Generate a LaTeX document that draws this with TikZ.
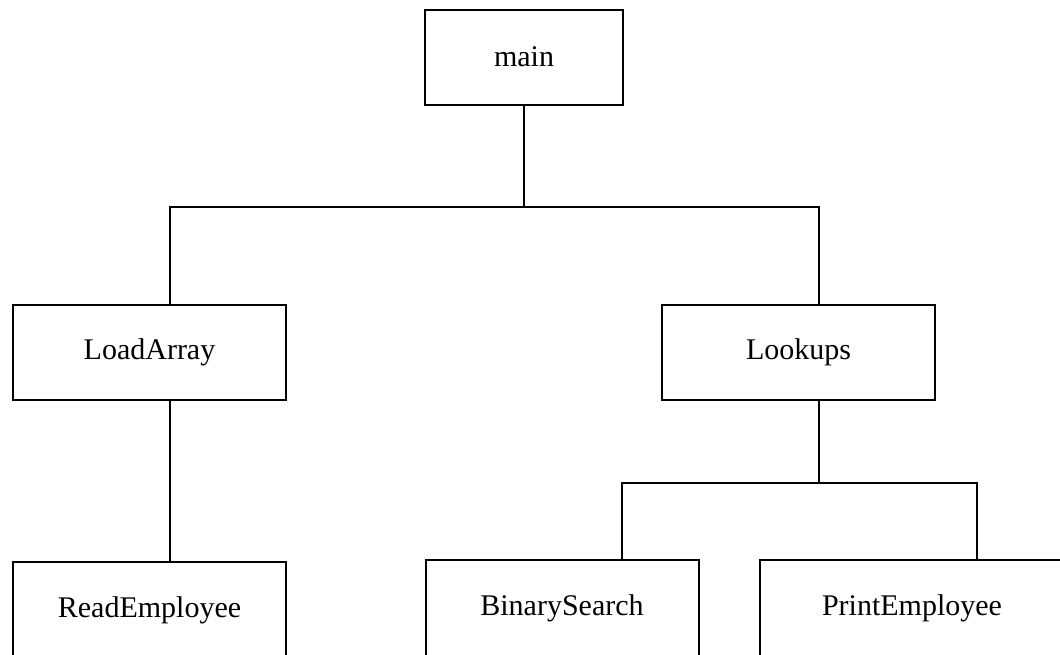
\documentclass[tikz,border=0pt]{standalone}
\usepackage{fontspec}
\setmainfont{Liberation Serif}
\usetikzlibrary{calc, positioning}
\tikzstyle{module} = [rectangle, line width=1.5pt, minimum width=204.75pt, minimum height=71.25pt, text centered, draw=black, font=\fontsize{22.5}{27}\selectfont]
\tikzstyle{link} = [line width=1.5pt]
\begin{document}
\begin{tikzpicture}[x=0.75pt, y=-0.75pt, node distance = 120pt]
	\useasboundingbox (0,0) rectangle (1060,654);
	\node (Main) [module, minimum width=148.5pt] at (524,57) {main};
	\node (LoadArray) [module] at (149.5,352.5) {LoadArray};
	\node (Lookups) [module] at (798.5,352.5) {Lookups};
	\node (ReadEmployee) [module, minimum height=72pt, below = 120pt of LoadArray] {ReadEmployee};
	\node (BinarySearch) [module, minimum height=72pt] at (562,608) {BinarySearch};
	\node (PrintEmployee) [module, minimum width=228pt, minimum height=72pt] at (912,608) {PrintEmployee};
	\coordinate (TopBus) at ($(Main.south)+(0,101)$);
	\coordinate (LowBus) at ($(Lookups.south)+(20.5,82)$);
	\draw [link] (Main.south) -- (TopBus);
	\draw [link] ($(LoadArray.north)+(20.5,0)$) |- (TopBus);
	\draw [link] ($(Lookups.north)+(20.5,0)$) |- (TopBus);
	\draw [link] ($(LoadArray.south)+(20.5,0)$) -- ($(ReadEmployee.north)+(20.5,0)$);
	\draw [link] ($(Lookups.south)+(20.5,0)$) -- (LowBus);
	\draw [link] ($(BinarySearch.north)+(60,0)$) |- (LowBus);
	\draw [link] ($(PrintEmployee.north)+(65,0)$) |- (LowBus);
\end{tikzpicture}
\end{document}
